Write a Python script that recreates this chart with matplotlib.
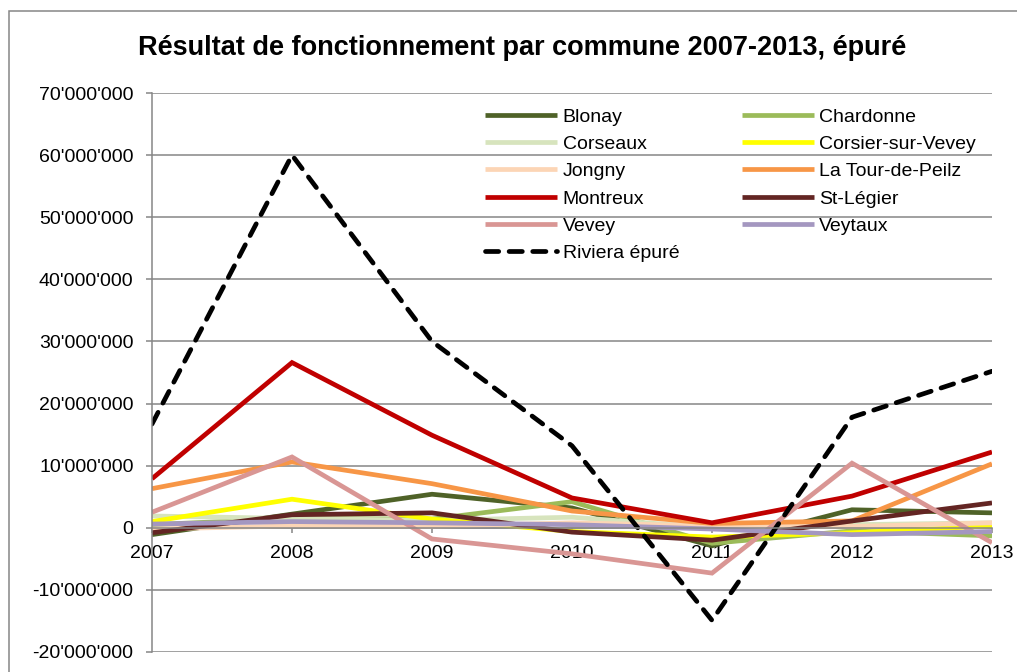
import matplotlib.pyplot as plt
from matplotlib.ticker import FuncFormatter
from matplotlib.patches import Rectangle

plt.rcParams['font.family'] = ['Liberation Sans', 'DejaVu Sans']

years = [2007, 2008, 2009, 2010, 2011, 2012, 2013]

# values in CHF
blonay = [-1.1e6, 2.2e6, 5.4e6, 3.2e6, -2.9e6, 2.9e6, 2.4e6]
chardonne = [0.5e6, 1.5e6, 1.4e6, 4.2e6, -2.5e6, -0.5e6, -1.3e6]
corseaux = [1.9e6, 1.5e6, 1.2e6, 1.7e6, 0.0e6, 0.5e6, 0.8e6]
corsier = [1.0e6, 4.6e6, 1.4e6, -0.6e6, -1.5e6, -0.8e6, 0.3e6]
jongny = [-0.2e6, 0.3e6, 0.2e6, 0.8e6, 0.3e6, 0.2e6, 0.8e6]
tour_de_peilz = [6.3e6, 10.6e6, 7.1e6, 2.7e6, 0.7e6, 1.1e6, 10.3e6]
montreux = [7.9e6, 26.6e6, 14.9e6, 4.8e6, 0.8e6, 5.1e6, 12.2e6]
st_legier = [-0.8e6, 2.1e6, 2.4e6, -0.7e6, -2.0e6, 1.1e6, 4.0e6]
vevey = [2.5e6, 11.4e6, -1.8e6, -4.2e6, -7.3e6, 10.4e6, -2.4e6]
veytaux = [0.6e6, 1.0e6, 0.8e6, 0.5e6, -0.2e6, -1.1e6, -0.6e6]
riviera = [16.7e6, 60.0e6, 30.0e6, 13.2e6, -14.9e6, 17.8e6, 25.2e6]

communes = ['Blonay', 'Chardonne', 'Corseaux', 'Corsier-sur-Vevey', 'Jongny',
            'La Tour-de-Peilz', 'Montreux', 'St-Légier', 'Vevey', 'Veytaux']
series = [blonay, chardonne, corseaux, corsier, jongny,
          tour_de_peilz, montreux, st_legier, vevey, veytaux]
colors = ['#4F6228', '#9BBB59', '#D7E4BD', '#FFFF00', '#FCD5B5',
          '#F79646', '#C00000', '#632523', '#D99694', '#A497C0']

grey = '#868686'

fig = plt.figure(figsize=(10.17, 6.72), dpi=100)
ax = fig.add_axes([152/1017, 20/672, (992-152)/1017, (652-93)/672])

lines = {}
for name, vals, c in zip(communes, series, colors):
    lines[name], = ax.plot(years, vals, color=c, lw=3.4, label=name,
                           solid_capstyle='butt', solid_joinstyle='miter')
lines['Riviera épuré'], = ax.plot(years, riviera, color='black', lw=3.4,
                                  dashes=(2.8, 2.2), dash_capstyle='round',
                                  label='Riviera épuré')

ax.set_xlim(2007, 2013)
ax.set_ylim(-20e6, 70e6)
ax.set_yticks(range(-20000000, 70000001, 10000000))
ax.set_xticks(years)
ax.yaxis.set_major_formatter(FuncFormatter(lambda v, p: f"{int(v):,}".replace(',', "'")))
ax.grid(axis='y', color=grey, lw=1.1)
ax.set_axisbelow(True)

for s in ['top', 'right']:
    ax.spines[s].set_visible(False)
ax.spines['left'].set_color(grey)
ax.spines['left'].set_linewidth(1.1)
ax.spines['bottom'].set_position(('data', 0))
ax.spines['bottom'].set_color(grey)
ax.spines['bottom'].set_linewidth(1.1)
ax.tick_params(axis='y', direction='out', length=4.3, width=1.1, color=grey,
               pad=9, labelsize=14)
ax.tick_params(axis='x', direction='out', length=3.6, width=1.1, color=grey,
               pad=9, labelsize=14)

order = ['Blonay', 'Corseaux', 'Jongny', 'Montreux', 'Vevey', 'Riviera épuré',
         'Chardonne', 'Corsier-sur-Vevey', 'La Tour-de-Peilz', 'St-Légier', 'Veytaux']
ax.legend([lines[k] for k in order], order, ncol=2, frameon=False,
          loc='upper left', bbox_to_anchor=(485/1017, 1 - 108/672),
          bbox_transform=fig.transFigure, borderpad=0, borderaxespad=0,
          handlelength=3.7, handletextpad=0.3, columnspacing=3.2,
          labelspacing=0.5, fontsize=14)

fig.text(522/1017, 1 - 48/672, 'Résultat de fonctionnement par commune 2007-2013, épuré',
         ha='center', va='center', fontsize=19.5, fontweight='bold')

fig.patches.append(Rectangle((9/1017, -0.1), 1.2, 1.1 - 11/672, transform=fig.transFigure,
                             fill=False, edgecolor=grey, lw=1.1))

fig.savefig('out.png', dpi=100)
